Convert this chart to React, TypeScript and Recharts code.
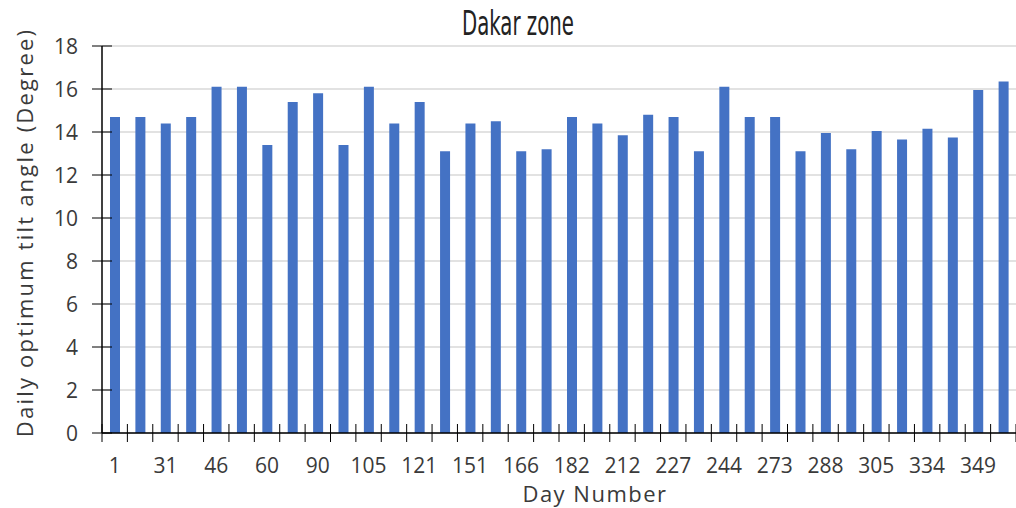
import React from "react";
import { BarChart, Bar, XAxis, YAxis, CartesianGrid } from "recharts";

// day numbers: 1st, 15th and last day of each month
const days = [
  1, 15, 31, 32, 46, 59, 60, 74, 90, 91, 105, 120, 121, 135, 151, 152, 166, 181,
  182, 196, 212, 213, 227, 243, 244, 258, 273, 274, 288, 304, 305, 319, 334, 335,
  349, 365,
];

const tiltAngle = [
  14.7, 14.7, 14.4, 14.7, 16.1, 16.1, 13.4, 15.4, 15.8, 13.4, 16.1, 14.4, 15.4,
  13.1, 14.4, 14.5, 13.1, 13.2, 14.7, 14.4, 13.85, 14.8, 14.7, 13.1, 16.1, 14.7,
  14.7, 13.1, 13.95, 13.2, 14.05, 13.65, 14.15, 13.75, 15.95, 16.35,
];

const yTicks = [0, 2, 4, 6, 8, 10, 12, 14, 16, 18];

const data = days.map((day, i) => ({ day: String(day), angle: tiltAngle[i] }));

const W = 1016;
const H = 508;
const Y_AXIS_W = 102;
const X_AXIS_H = 75;
const TOP = 46;
const plotW = W - Y_AXIS_W;
const band = plotW / days.length;
const FONT = "'Open Sans', sans-serif";
const TEXT = "#3a3a3a";

function XTick({ x, y, index, payload }: any) {
  const last = index === days.length - 1;
  return (
    <g>
      <line x1={x - band / 2} x2={x - band / 2} y1={y - 9} y2={y + 9} stroke="#000" />
      {last && <line x1={x + band / 2} x2={x + band / 2} y1={y - 9} y2={y + 9} stroke="#000" />}
      {index % 2 === 0 && (
        <text x={x} y={y + 40} textAnchor="middle" fontSize={21} fontFamily={FONT} fill={TEXT}>
          {payload.value}
        </text>
      )}
    </g>
  );
}

function YTick({ x, y, payload }: any) {
  return (
    <g>
      <line x1={x - 10} x2={x + 10} y1={y} y2={y} stroke="#000" />
      <text x={x - 24} y={y + 7.5} textAnchor="end" fontSize={21} fontFamily={FONT} fill={TEXT}>
        {payload.value}
      </text>
    </g>
  );
}

export default function App() {
  return (
    <div style={{ position: "absolute", left: 0, top: 0, width: W, height: H, background: "#fff" }}>
      <svg width={W} height={44} style={{ position: "absolute", left: 0, top: 0 }}>
        <text
          x={518}
          y={35}
          textAnchor="middle"
          fontSize={33}
          fontFamily="'Liberation Sans Narrow', 'DejaVu Sans Condensed', sans-serif"
          textLength={112}
          lengthAdjust="spacingAndGlyphs"
          fill="#222"
        >
          Dakar zone
        </text>
      </svg>
      <BarChart width={W} height={H} data={data} margin={{ top: TOP, right: 0, bottom: 0, left: 0 }}>
        <CartesianGrid vertical={false} stroke="#d9d9d9" strokeWidth={1.5} />
        <XAxis
          dataKey="day"
          interval={0}
          height={X_AXIS_H}
          tickSize={0}
          tickMargin={0}
          tick={<XTick />}
          axisLine={{ stroke: "#000", strokeWidth: 1.5 }}
          tickLine={false}
          label={{
            content: ({ viewBox }: any) => (
              <text
                x={viewBox.x + viewBox.width / 2 + 36}
                y={viewBox.y + 69}
                textAnchor="middle"
                fontSize={22}
                letterSpacing={1.5}
                fontFamily={FONT}
                fill={TEXT}
              >
                Day Number
              </text>
            ),
          }}
        />
        <YAxis
          domain={[0, 18]}
          ticks={yTicks}
          width={Y_AXIS_W}
          tickSize={0}
          tickMargin={0}
          tick={<YTick />}
          axisLine={{ stroke: "#000", strokeWidth: 1.5 }}
          tickLine={false}
          label={{
            content: ({ viewBox }: any) => {
              const cx = 24;
              const cy = viewBox.y + viewBox.height / 2 - 7;
              return (
                <text
                  x={cx}
                  y={cy}
                  transform={`rotate(-90 ${cx} ${cy})`}
                  textAnchor="middle"
                  dominantBaseline="central"
                  fontSize={22}
                  letterSpacing={2.2}
                  fontFamily={FONT}
                  fill={TEXT}
                >
                  Daily optimum tilt angle (Degree)
                </text>
              );
            },
          }}
        />
        <Bar dataKey="angle" fill="#4472C4" barSize={10} isAnimationActive={false} />
      </BarChart>
    </div>
  );
}
